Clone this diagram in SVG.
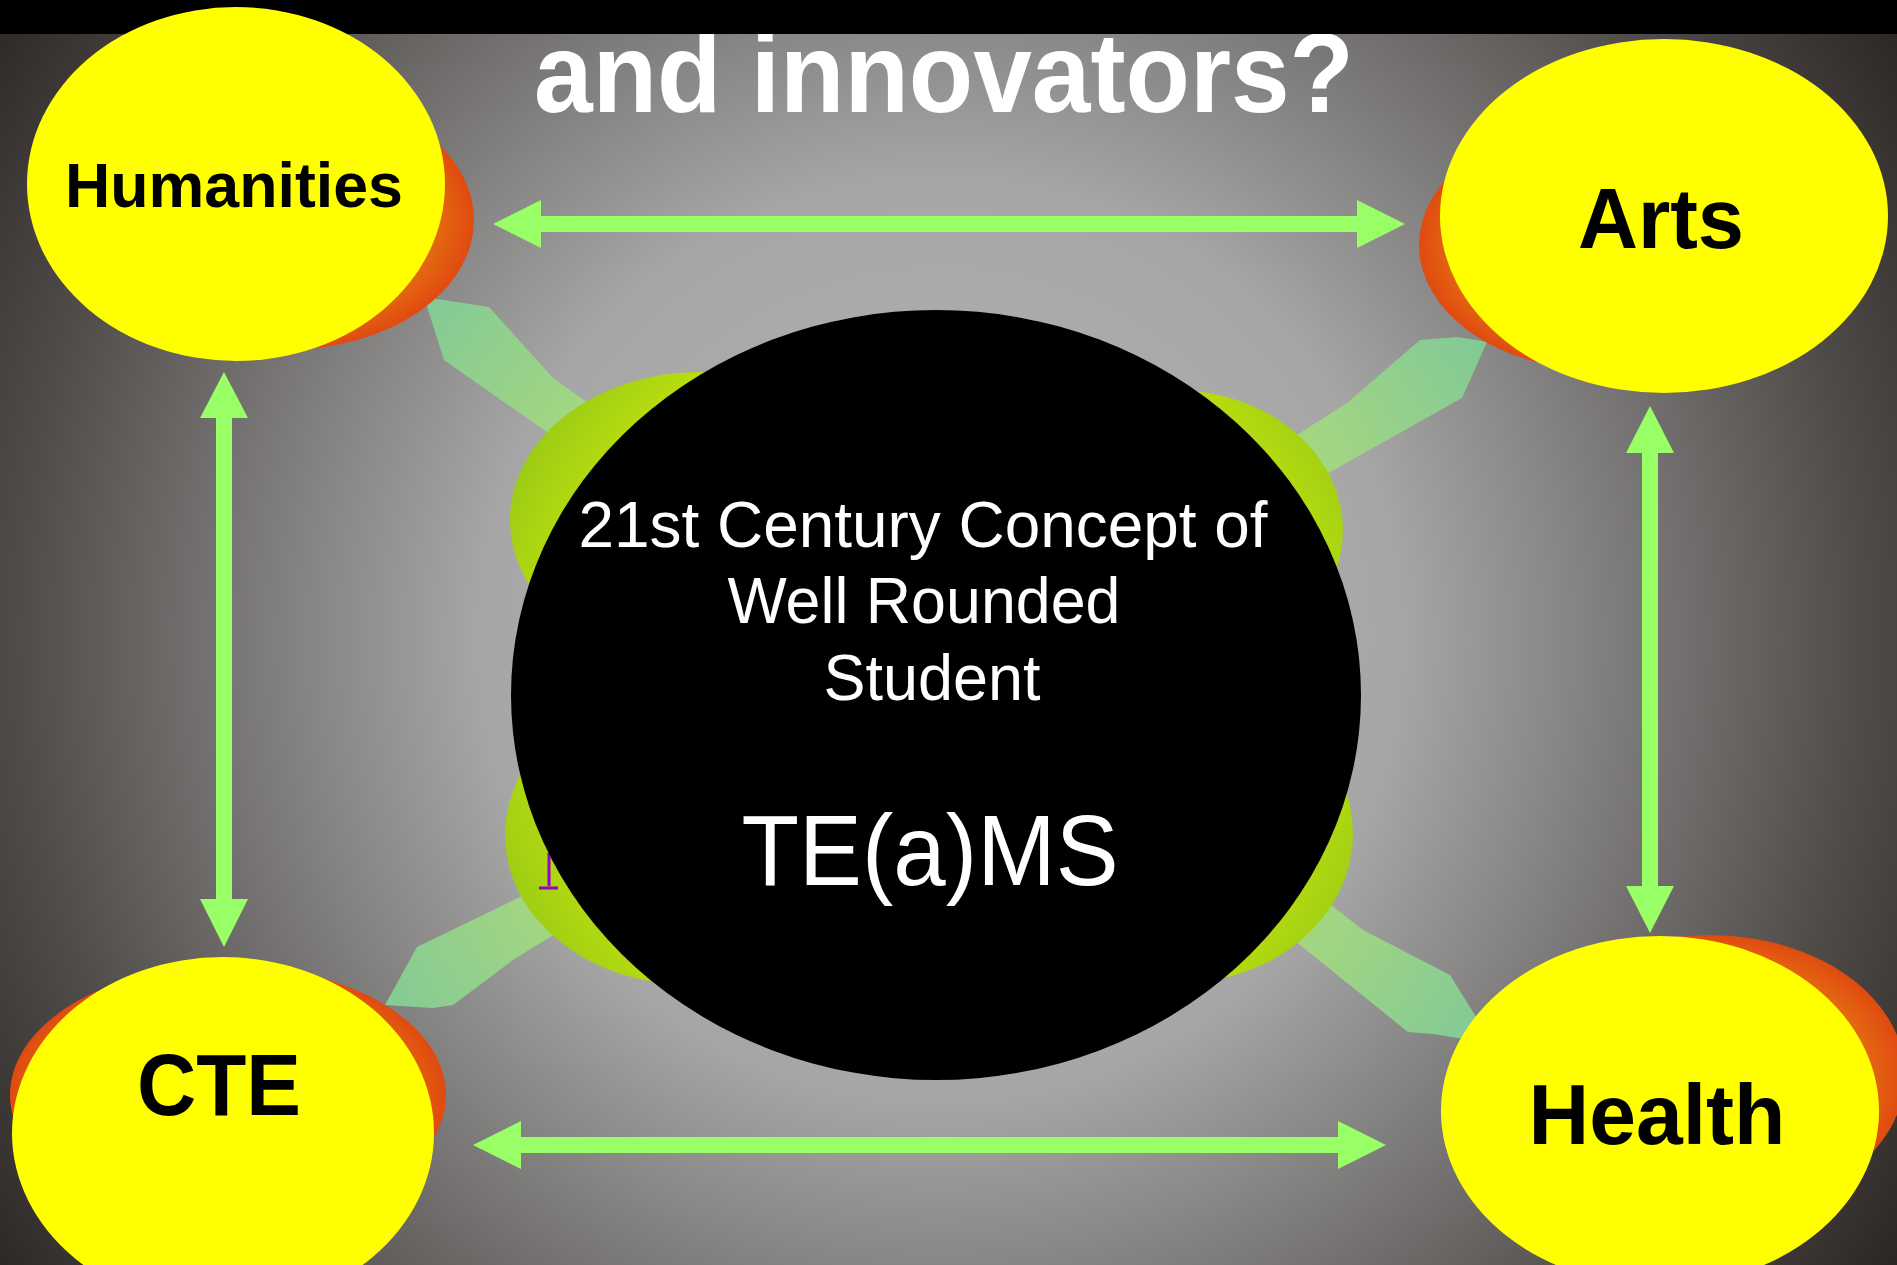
<svg xmlns="http://www.w3.org/2000/svg" width="1897" height="1265" viewBox="0 0 1897 1265">
<defs>
<radialGradient id="bg" gradientUnits="userSpaceOnUse" cx="940" cy="640" r="1150">
<stop offset="0" stop-color="#b6b6b6"/>
<stop offset="0.4" stop-color="#a6a6a6"/>
<stop offset="0.6" stop-color="#7c7a79"/>
<stop offset="0.8" stop-color="#504c4a"/>
<stop offset="1" stop-color="#2a2523"/>
</radialGradient>
<radialGradient id="lobe" gradientUnits="userSpaceOnUse" cx="936" cy="690" r="520">
<stop offset="0.75" stop-color="#b8de0e"/>
<stop offset="0.97" stop-color="#90c418"/>
</radialGradient>
<radialGradient id="pen" gradientUnits="userSpaceOnUse" cx="936" cy="690" r="760">
<stop offset="0.6" stop-color="#a2d682"/>
<stop offset="0.95" stop-color="#76c49e"/>
</radialGradient>
<radialGradient id="shadow" cx="0.5" cy="0.5" r="0.5">
<stop offset="0.6" stop-color="#e88a10"/>
<stop offset="1" stop-color="#e04a10"/>
</radialGradient>
<style>
.yellow{fill:#ffff00}
.orange{fill:url(#shadow)}
.lobe{fill:url(#lobe)}
.pen{fill:url(#pen)}
.arrow{fill:#99ff66}
.lbl{font-family:"Liberation Sans",Arial,sans-serif;font-weight:bold;fill:#000;text-anchor:middle}
.ctr{font-family:"Liberation Sans",Arial,sans-serif;fill:#fff;text-anchor:middle}
</style>
</defs>
<rect x="0" y="0" width="1897" height="1265" fill="url(#bg)"/>

<g id="title">
<text x="534" y="112" font-family="Liberation Sans, Arial, sans-serif" font-weight="bold" font-size="114" fill="#fff" textLength="820" lengthAdjust="spacingAndGlyphs">and innovators?</text>
</g>
<rect x="0" y="0" width="1897" height="34" fill="#000"/>

<g id="connectors">
<polygon class="pen" points="424,297 489,307 553,378 640,440 610,476 547,432 444,360"/>
<polygon class="pen" points="1420,340 1458,337 1487,342 1462,398 1330,472 1260,511 1240,470 1300,433 1347,403"/>
<polygon class="pen" points="385,1005 433,1008 453,1005 513,960 600,906 580,868 518,898 417,947"/>
<polygon class="pen" points="1290,873 1363,930 1450,975 1478,1020 1470,1040 1433,1034 1408,1032 1300,945 1250,905"/>
</g>

<g id="center">
<ellipse class="lobe" cx="700" cy="520" rx="190" ry="148"/>
<ellipse class="lobe" cx="1175" cy="530" rx="168" ry="140"/>
<ellipse class="lobe" cx="690" cy="835" rx="185" ry="150"/>
<ellipse class="lobe" cx="1180" cy="833" rx="173" ry="150"/>
<path d="M549,853 L549,886 M539,888 L558,888" stroke="#9900cc" stroke-width="3" fill="none"/>
<ellipse cx="936" cy="695" rx="425" ry="385" fill="#000"/>
<text class="ctr" x="923" y="547" font-size="64" textLength="689" lengthAdjust="spacingAndGlyphs">21st Century Concept of</text>
<text class="ctr" x="924" y="623" font-size="64" textLength="393" lengthAdjust="spacingAndGlyphs">Well Rounded</text>
<text class="ctr" x="932" y="700" font-size="64" textLength="217" lengthAdjust="spacingAndGlyphs">Student</text>
<text class="ctr" x="930" y="885" font-size="100" textLength="377" lengthAdjust="spacingAndGlyphs">TE(a)MS</text>
</g>

<g id="humanities">
<ellipse class="orange" cx="285" cy="220" rx="189" ry="130"/>
<ellipse class="yellow" cx="236" cy="184" rx="209" ry="177"/>
<text class="lbl" x="234" y="207" font-size="63" textLength="338" lengthAdjust="spacingAndGlyphs">Humanities</text>
</g>

<g id="arts">
<ellipse class="orange" cx="1600" cy="245" rx="181" ry="125"/>
<ellipse class="yellow" cx="1664" cy="216" rx="224" ry="177"/>
<text class="lbl" x="1661" y="248" font-size="85" textLength="166" lengthAdjust="spacingAndGlyphs">Arts</text>
</g>

<g id="cte">
<ellipse class="orange" cx="228" cy="1095" rx="218" ry="130"/>
<ellipse class="yellow" cx="223" cy="1133" rx="211" ry="176"/>
<text class="lbl" x="219" y="1115" font-size="88" textLength="164" lengthAdjust="spacingAndGlyphs">CTE</text>
</g>

<g id="health">
<ellipse class="orange" cx="1710" cy="1075" rx="195" ry="140"/>
<ellipse class="yellow" cx="1660" cy="1111" rx="219" ry="175"/>
<text class="lbl" x="1657" y="1144" font-size="86" textLength="257" lengthAdjust="spacingAndGlyphs">Health</text>
</g>

<g id="arrows">
<path class="arrow" d="M493,224 L541,200 L541,216 L1357,216 L1357,200 L1405,224 L1357,248 L1357,232 L541,232 L541,248 Z"/>
<path class="arrow" d="M473,1145 L521,1121 L521,1137 L1338,1137 L1338,1121 L1386,1145 L1338,1169 L1338,1153 L521,1153 L521,1169 Z"/>
<path class="arrow" d="M224,372 L248,418 L232,418 L232,899 L248,899 L224,947 L200,899 L216,899 L216,418 L200,418 Z"/>
<path class="arrow" d="M1650,406 L1674,453 L1658,453 L1658,886 L1674,886 L1650,933 L1626,886 L1642,886 L1642,453 L1626,453 Z"/>
</g>
</svg>
